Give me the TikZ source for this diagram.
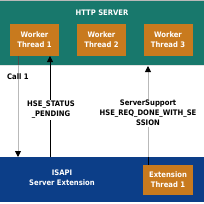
\documentclass[tikz,border=0pt]{standalone}
\usepackage{fontspec}
\setmainfont{DejaVu Sans Condensed}
\usetikzlibrary{arrows.meta}
\definecolor{srvgreen}{RGB}{24,120,108}
\definecolor{thorange}{RGB}{200,122,30}
\definecolor{extblue}{RGB}{12,62,136}
\definecolor{lgray}{RGB}{185,185,185}
\begin{document}
\begin{tikzpicture}[x=1pt,y=-1pt,
  txt/.style={font=\fontsize{7.6}{10}\selectfont\bfseries, align=center, inner sep=0pt},
  thread/.style={txt, fill=thorange, text=white, minimum width=49pt, minimum height=32pt},
  lbl/.style={txt, fill=white, text=black, inner sep=1pt},
  arr/.style={-{Triangle[length=6pt,width=6pt,color=black]}, line width=0.9pt}]
\useasboundingbox (0,0) rectangle (204,204);
\fill[white] (0,0) rectangle (204,204);
% panels
\node[fill=srvgreen, minimum width=204pt, minimum height=65pt, inner sep=0pt, anchor=north west] (srv) at (0,0) {};
\fill[lgray] (0,0) rectangle (204,1);
\fill[lgray!40] (0,65) rectangle (204,66);
\node[fill=extblue, minimum width=204pt, minimum height=45pt, inner sep=0pt, anchor=north west] (isapi) at (0,157) {};
\node[txt, text=white] (srvlbl) at (102,13) {HTTP SERVER};
\node[thread] (w1) at (34.5,40) {Worker\\Thread 1};
\node[thread] (w2) at (101.5,40) {Worker\\Thread 2};
\node[thread] (w3) at (168,40) {Worker\\Thread 3};
\node[txt, text=white] (isapilbl) at (62,178) {ISAPI\\Server Extension};
\node[thread, minimum width=50pt, minimum height=30pt] (ext) at (168,180) {Extension\\Thread 1};
% connectors
\coordinate (c1a) at (18,56);
\coordinate (c1b) at (18,157);
\draw[lgray, arr] (c1a) -- (c1b);
\draw[gray!60!black, line width=0.9pt] (c1a) -- (18,65);
\node[txt, text=black, anchor=west] (call) at (7,77) {Call 1};
\coordinate (hsea) at (50,157);
\coordinate (hseb) at (50,56);
\draw[black, arr] (hsea) -- (hseb);
\node[lbl] (hse) at (51,110) {HSE\_STATUS\\\_PENDING};
\coordinate (ssa) at (148,165);
\coordinate (ssb) at (148,66);
\draw[lgray, arr] (ssa) -- (ssb);
\draw[black, line width=0.9pt] (ssa) -- (148,157);
\node[lbl] (ss) at (148,113) {ServerSupport\\HSE\_REQ\_DONE\_WITH\_SE\\SSION};
\end{tikzpicture}
\end{document}
